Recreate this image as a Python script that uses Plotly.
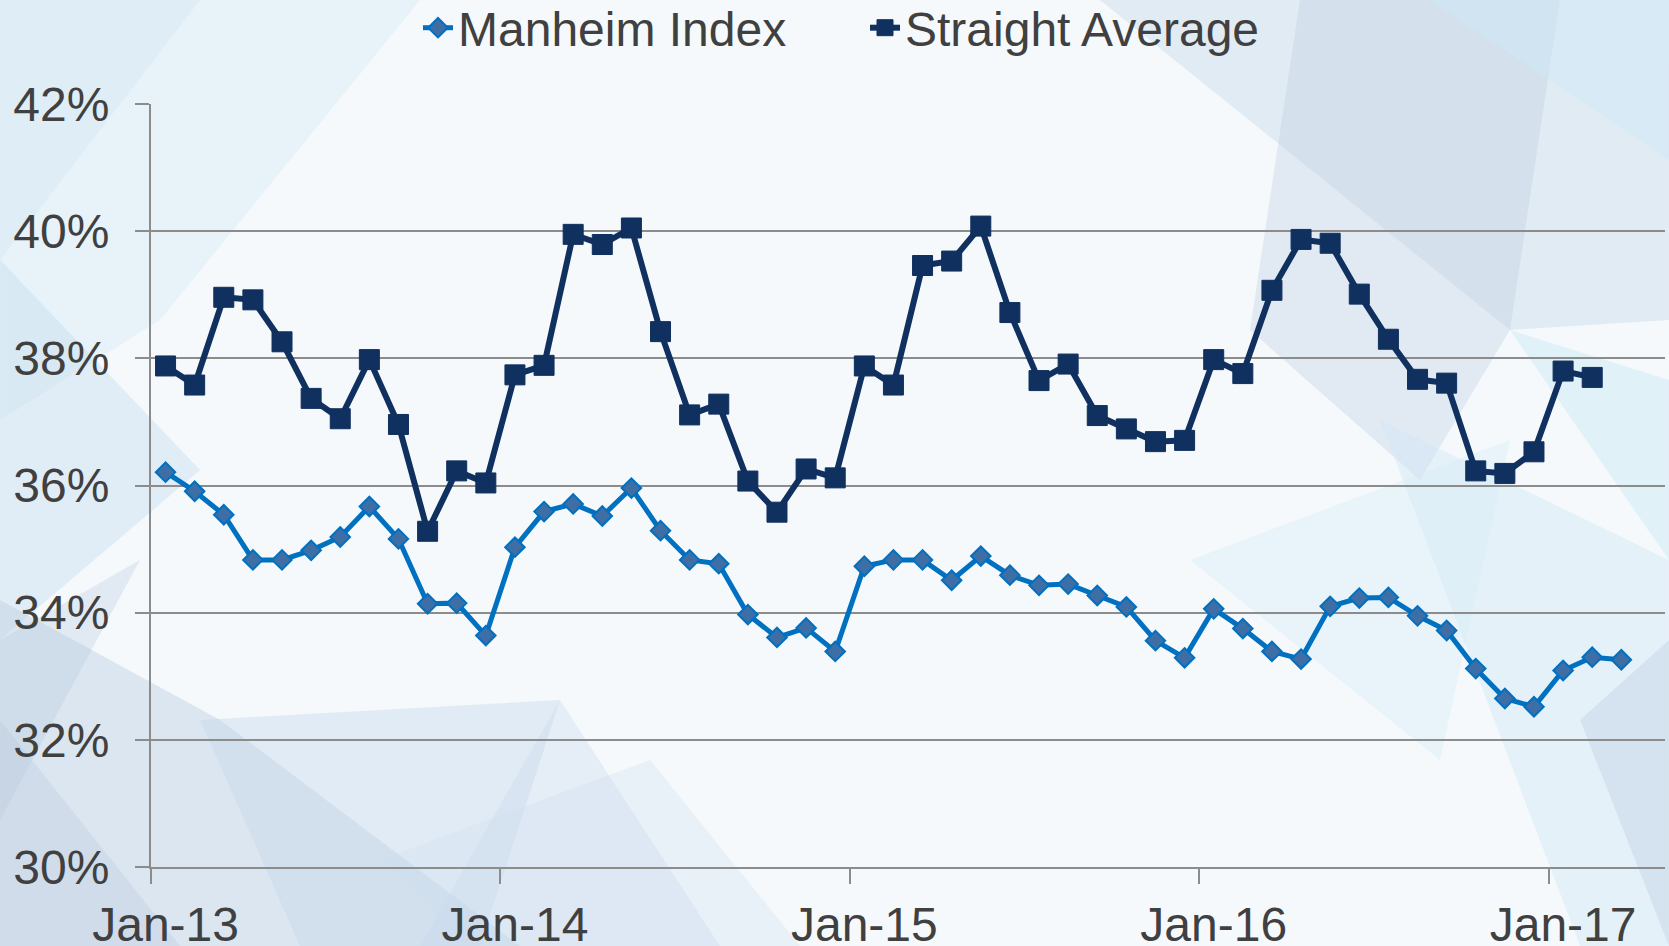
import plotly.graph_objects as go

# ---------------- data ----------------
months = ["Jan-13","Feb-13","Mar-13","Apr-13","May-13","Jun-13","Jul-13","Aug-13","Sep-13","Oct-13","Nov-13","Dec-13",
          "Jan-14","Feb-14","Mar-14","Apr-14","May-14","Jun-14","Jul-14","Aug-14","Sep-14","Oct-14","Nov-14","Dec-14",
          "Jan-15","Feb-15","Mar-15","Apr-15","May-15","Jun-15","Jul-15","Aug-15","Sep-15","Oct-15","Nov-15","Dec-15",
          "Jan-16","Feb-16","Mar-16","Apr-16","May-16","Jun-16","Jul-16","Aug-16","Sep-16","Oct-16","Nov-16","Dec-16",
          "Jan-17","Feb-17","Mar-17"]

manheim = [36.21, 35.91, 35.54, 34.83, 34.83, 34.98, 35.19, 35.67, 35.16, 34.14, 34.15, 33.64,
           35.03, 35.59, 35.71, 35.52, 35.96, 35.29, 34.83, 34.77, 33.97, 33.61, 33.76, 33.39,
           34.73, 34.83, 34.83, 34.51, 34.89, 34.59, 34.43, 34.45, 34.27, 34.09, 33.56, 33.29,
           34.06, 33.75, 33.39, 33.27, 34.10, 34.23, 34.24, 33.95, 33.72, 33.12, 32.65, 32.52,
           33.09, 33.30, 33.26]

straight_avg = [37.88, 37.58, 38.96, 38.92, 38.26, 37.37, 37.05, 37.98, 36.96, 35.28, 36.23, 36.04,
                37.74, 37.89, 39.95, 39.79, 40.05, 38.42, 37.11, 37.28, 36.07, 35.58, 36.26, 36.12,
                37.88, 37.58, 39.46, 39.53, 40.08, 38.72, 37.65, 37.91, 37.10, 36.89, 36.69, 36.71,
                37.98, 37.76, 39.07, 39.87, 39.81, 39.01, 38.30, 37.67, 37.61, 36.23, 36.19, 36.53,
                37.80, 37.70]

year_labels = ["Jan-13", "Jan-14", "Jan-15", "Jan-16", "Jan-17"]
y_ticks = [30, 32, 34, 36, 38, 40, 42]
y_tick_text = [f"{v}%" for v in y_ticks]

# ---------------- layout geometry ----------------
W, H = 1669, 946
L, R, T, B = 151, 4, 104, 79
PW, PH = W - L - R, H - T - B

x_pos_m = [i + 0.5 for i in range(len(manheim))]
x_pos_s = [i + 0.5 for i in range(len(straight_avg))]
label_pos = [months.index(m) + 0.5 for m in year_labels]
tick_pos = [months.index(m) for m in year_labels]


def px(xp):
    return (xp - L) / PW


def py(yp):
    return (H - B - yp) / PH


def poly(points):
    return "M " + " L ".join(f"{px(a):.4f},{py(b):.4f}" for a, b in points) + " Z"


# decorative faceted background (pixel polygons)
bg_polys = [
    # top-left light blue wash
    ([(0, 0), (420, 0), (160, 320), (0, 420)], "rgba(200,226,242,0.30)"),
    ([(0, 0), (200, 0), (0, 260)], "rgba(196,224,240,0.25)"),
    ([(0, 260), (0, 640), (200, 470)], "rgba(196,220,238,0.40)"),
    # bottom-left grey-blue facets
    ([(0, 600), (0, 946), (520, 946), (220, 720)], "rgba(190,206,226,0.45)"),
    ([(0, 640), (140, 560), (0, 820)], "rgba(180,198,220,0.30)"),
    ([(0, 720), (0, 946), (180, 946)], "rgba(185,200,222,0.35)"),
    ([(200, 720), (560, 700), (480, 946), (300, 946)], "rgba(196,214,234,0.40)"),
    ([(560, 700), (720, 946), (420, 946)], "rgba(200,216,236,0.35)"),
    ([(380, 860), (650, 760), (800, 946), (470, 946)], "rgba(205,222,238,0.30)"),
    # top-right facets
    ([(1100, 0), (1669, 0), (1669, 320), (1510, 330)], "rgba(200,218,236,0.45)"),
    ([(1300, 0), (1560, 0), (1510, 330), (1250, 330)], "rgba(195,210,228,0.40)"),
    ([(1250, 330), (1510, 330), (1420, 480)], "rgba(190,206,226,0.35)"),
    ([(1430, 0), (1669, 0), (1669, 160)], "rgba(205,232,246,0.45)"),
    ([(1510, 330), (1669, 380), (1669, 560)], "rgba(200,230,244,0.45)"),
    # right side lower
    ([(1380, 420), (1669, 560), (1669, 946), (1580, 946)], "rgba(205,230,244,0.40)"),
    ([(1580, 720), (1669, 640), (1669, 946)], "rgba(190,208,228,0.40)"),
    ([(1190, 560), (1510, 440), (1440, 760)], "rgba(210,234,246,0.35)"),
]

shapes = []
for pts, col in bg_polys:
    shapes.append(dict(type="path", path=poly(pts), xref="paper", yref="paper",
                       fillcolor=col, line=dict(width=0), layer="below"))

fig = go.Figure()

fig.add_trace(go.Scatter(
    x=x_pos_m, y=manheim, name="Manheim Index", mode="lines+markers",
    line=dict(color="#0070C0", width=5),
    marker=dict(symbol="diamond", size=15, color="#3D6EA6",
                line=dict(color="#0070C0", width=2)),
))

fig.add_trace(go.Scatter(
    x=x_pos_s, y=straight_avg, name="Straight Average", mode="lines+markers",
    line=dict(color="#10305F", width=6),
    marker=dict(symbol="square", size=20, color="#10305F",
                line=dict(color="#10305F", width=1)),
))

font_main = dict(family="Liberation Sans, Arial, sans-serif", size=48, color="#404040")

fig.update_layout(
    width=W, height=H, autosize=False,
    margin=dict(l=L, r=R, t=T, b=B, pad=0, autoexpand=False),
    paper_bgcolor="#F5F9FC",
    plot_bgcolor="rgba(0,0,0,0)",
    font=font_main,
    shapes=shapes,
    showlegend=True,
    legend=dict(orientation="h", x=px(418), xanchor="left", y=py(28), yanchor="middle",
                font=font_main, bgcolor="rgba(0,0,0,0)", itemwidth=30,
                entrywidth=402, traceorder="normal"),
    xaxis=dict(
        range=[0, 52], tickmode="array", tickvals=label_pos, ticktext=year_labels,
        ticks="", showgrid=False, zeroline=False,
        showline=True, linecolor="#8C8C8C", linewidth=2,
        tickfont=font_main, ticklabelstandoff=14,
        minor=dict(tickmode="array", tickvals=tick_pos, ticks="outside", ticklen=15,
                   tickwidth=2, tickcolor="#8C8C8C", showgrid=False),
    ),
    yaxis=dict(
        range=[30, 42], tickmode="array", tickvals=y_ticks, ticktext=y_tick_text,
        showgrid=True, gridcolor="#8C8C8C", gridwidth=2, zeroline=False,
        showline=True, linecolor="#8C8C8C", linewidth=2,
        ticks="outside", ticklen=14, tickwidth=2, tickcolor="#8C8C8C",
        tickfont=font_main, ticklabelstandoff=16,
    ),
)

fig.write_html("out.html", config={"displayModeBar": False},
               post_script="document.body.style.margin='0';document.body.style.overflow='hidden';")
